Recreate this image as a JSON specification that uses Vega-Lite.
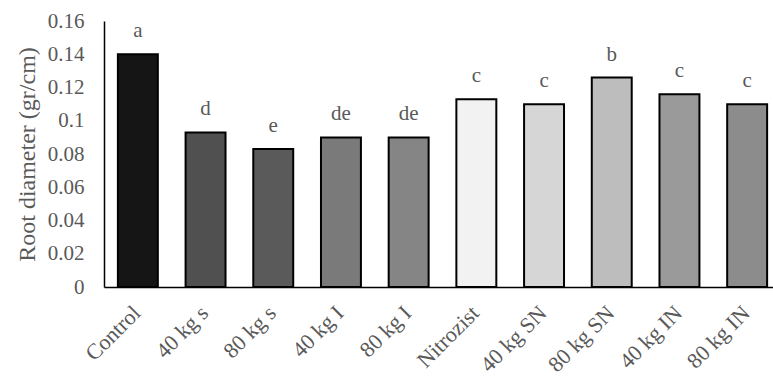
{
  "$schema": "https://vega.github.io/schema/vega-lite/v6.json",
  "autosize": {"type": "none"},
  "padding": {"left": 104, "top": 21, "right": 0, "bottom": 92},
  "width": 669,
  "height": 266,
  "background": "white",
  "config": {
    "view": {"stroke": null},
    "font": "Liberation Serif"
  },
  "data": {
    "values": [
      {"treatment": "Control", "diameter": 0.14, "group": "a"},
      {"treatment": "40 kg s", "diameter": 0.093, "group": "d"},
      {"treatment": "80 kg s", "diameter": 0.083, "group": "e"},
      {"treatment": "40 kg I", "diameter": 0.09, "group": "de"},
      {"treatment": "80 kg I", "diameter": 0.09, "group": "de"},
      {"treatment": "Nitrozist", "diameter": 0.113, "group": "c"},
      {"treatment": "40 kg SN", "diameter": 0.11, "group": "c"},
      {"treatment": "80 kg SN", "diameter": 0.126, "group": "b"},
      {"treatment": "40 kg IN", "diameter": 0.116, "group": "c"},
      {"treatment": "80 kg IN", "diameter": 0.11, "group": "c"}
    ]
  },
  "encoding": {
    "x": {
      "field": "treatment",
      "type": "nominal",
      "sort": null,
      "scale": {"range": [0, 677], "paddingInner": 0.41, "paddingOuter": 0.205},
      "axis": {
        "title": null,
        "labelAngle": -45,
        "labelFont": "Liberation Serif",
        "labelFontSize": 22,
        "labelColor": "#595959",
        "labelPadding": 15,
        "labelOffset": -8,
        "ticks": false,
        "domainColor": "#000000",
        "domainWidth": 1.5
      }
    },
    "y": {
      "field": "diameter",
      "type": "quantitative",
      "scale": {"domain": [0, 0.16], "nice": false},
      "axis": {
        "title": "Root diameter (gr/cm)",
        "titleFont": "Liberation Serif",
        "titleFontSize": 24,
        "titleFontWeight": "normal",
        "titleColor": "#595959",
        "titlePadding": 8,
        "values": [0, 0.02, 0.04, 0.06, 0.08, 0.1, 0.12, 0.14, 0.16],
        "format": "~g",
        "labelFont": "Liberation Serif",
        "labelFontSize": 21,
        "labelColor": "#595959",
        "labelPadding": 20,
        "ticks": false,
        "grid": false,
        "domainColor": "#000000",
        "domainWidth": 1.5
      }
    }
  },
  "layer": [
    {
      "mark": {"type": "bar", "stroke": "#000000", "strokeWidth": 2},
      "encoding": {
        "color": {
          "field": "treatment",
          "type": "nominal",
          "sort": null,
          "legend": null,
          "scale": {
            "domain": ["Control", "40 kg s", "80 kg s", "40 kg I", "80 kg I", "Nitrozist", "40 kg SN", "80 kg SN", "40 kg IN", "80 kg IN"],
            "range": ["#151515", "#505050", "#5a5a5a", "#7a7a7a", "#858585", "#f2f2f2", "#d6d6d6", "#bdbdbd", "#9a9a9a", "#8c8c8c"]
          }
        }
      }
    },
    {
      "mark": {"type": "text", "baseline": "alphabetic", "dy": -17, "fontSize": 21, "color": "#595959", "font": "Liberation Serif"},
      "encoding": {"text": {"field": "group"}}
    }
  ]
}
